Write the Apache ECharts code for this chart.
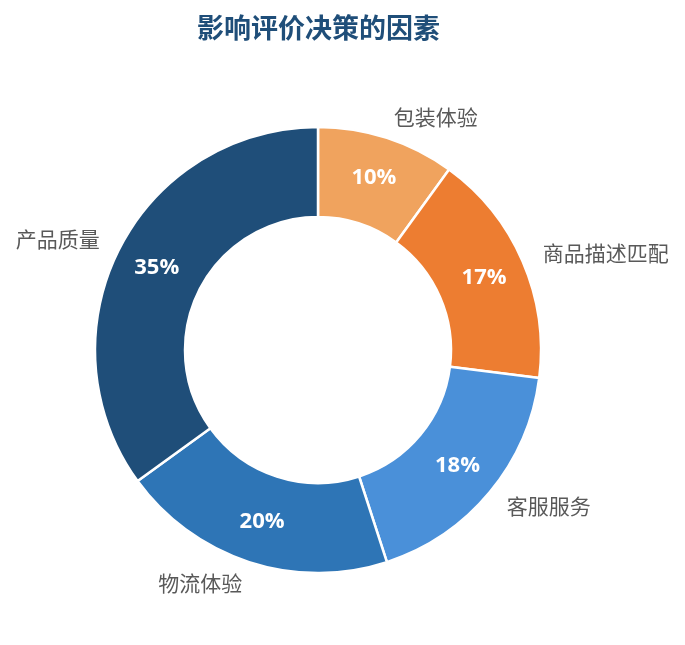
<!DOCTYPE html>
<html>
<head>
    <meta charset="UTF-8">
    <title>影响评价决策的因素</title>
    <script src="https://cdn.jsdelivr.net/npm/echarts@6/dist/echarts.min.js"></script>
    <style>
        html, body { margin: 0; padding: 0; background: #fff; }
        #chart { width: 685px; height: 645px; }
    </style>
</head>
<body>
    <div id="chart"></div>
    <script type="text/javascript">
        // data, clockwise from 12 o'clock
        var factors = ['包装体验', '商品描述匹配', '客服服务', '物流体验', '产品质量'];
        var shares = [10, 17, 18, 20, 35];
        var colors = ['#f0a35e', '#ed7d31', '#4a90d9', '#2e75b6', '#1f4e79'];

        var pieData = factors.map(function (name, i) {
            return { name: name, value: shares[i], itemStyle: { color: colors[i] } };
        });

        var chart = echarts.init(document.getElementById('chart'));

        var option = {
            animation: false,
            title: {
                text: '影响评价决策的因素',
                left: 192,
                top: 9,
                textStyle: {
                    fontFamily: 'Noto Sans CJK SC',
                    fontSize: 27,
                    fontWeight: 'bold',
                    color: '#1f4e79'
                }
            },
            series: [
                {
                    name: 'ring',
                    type: 'pie',
                    center: [318, 350],
                    radius: [133, 223],
                    startAngle: 90,
                    clockwise: true,
                    avoidLabelOverlap: false,
                    itemStyle: { borderColor: '#fff', borderWidth: 2.5 },
                    label: {
                        show: true,
                        position: 'inside',
                        formatter: '{c}%',
                        color: '#fff',
                        fontFamily: 'Open Sans, Noto Sans CJK SC',
                        fontSize: 22,
                        fontWeight: 'bold'
                    },
                    labelLine: { show: false },
                    emphasis: { disabled: true },
                    data: pieData
                },
                {
                    name: 'names',
                    type: 'pie',
                    center: [318, 350],
                    radius: [133, 223],
                    startAngle: 90,
                    clockwise: true,
                    silent: true,
                    avoidLabelOverlap: false,
                    itemStyle: { color: 'rgba(0,0,0,0)', borderWidth: 0 },
                    label: {
                        show: true,
                        position: 'outside',
                        formatter: '{b}',
                        color: '#595959',
                        fontFamily: 'Noto Sans CJK SC',
                        fontSize: 21,
                        distanceToLabelLine: 0
                    },
                    labelLine: { show: false, length: 22, length2: 0 },
                    emphasis: { disabled: true },
                    data: factors.map(function (name, i) {
                        return { name: name, value: shares[i] };
                    })
                }
            ]
        };

        chart.setOption(option);
    </script>
</body>
</html>
